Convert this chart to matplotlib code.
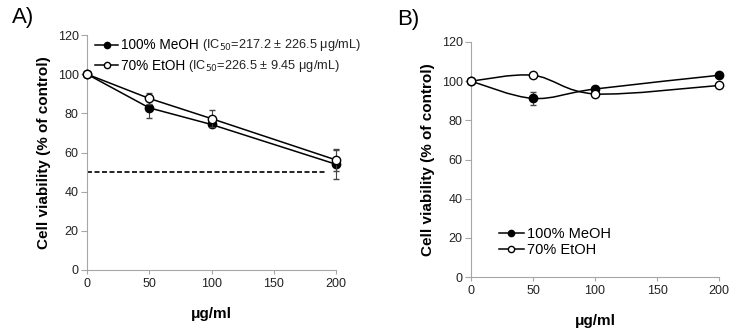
import numpy as np
import matplotlib
matplotlib.use('Agg')
import matplotlib.pyplot as plt
from matplotlib.path import Path
from matplotlib.patches import PathPatch

plt.rcParams['font.family'] = ['Liberation Sans', 'DejaVu Sans']

# data
conc = [0, 50, 100, 200]

# panel A
a_meoh = [100, 82.8, 74.3, 54.0]
a_meoh_err = [0, 5.0, 1.0, 7.5]
a_etoh = [100, 87.6, 77.3, 56.2]
a_etoh_err = [0, 3.0, 4.5, 5.5]
a_ic50 = ['(IC$_{50}$=217.2 ± 226.5 μg/mL)', '(IC$_{50}$=226.5 ± 9.45 μg/mL)']

# panel B
b_meoh = [100, 91.2, 96.0, 103.0]
b_meoh_err = [0, 3.5, 1.5, 1.0]
b_etoh = [100, 103.0, 93.5, 97.8]
b_etoh_err = [0, 1.0, 1.0, 1.0]

series_names = ['100% MeOH', '70% EtOH']
yticks = [0, 20, 40, 60, 80, 100, 120]
xticks = [0, 50, 100, 150, 200]

spine_col = '#a6a6a6'


def smooth_path(x, y):
    # Excel-like smoothed line (Catmull-Rom as cubic Bezier)
    p = np.column_stack([x, y]).astype(float)
    verts = [p[0]]
    codes = [Path.MOVETO]
    n = len(p)
    for i in range(n - 1):
        p0 = p[i - 1] if i > 0 else p[i]
        p3 = p[i + 2] if i + 2 < n else p[i + 1]
        c1 = p[i] + (p[i + 1] - p0) / 6
        c2 = p[i + 1] - (p3 - p[i]) / 6
        verts += [c1, c2, p[i + 1]]
        codes += [Path.CURVE4] * 3
    return Path(verts, codes)


def style_axes(ax):
    ax.set_xlim(0, 200)
    ax.set_ylim(0, 120)
    ax.set_xticks(xticks)
    ax.set_yticks(yticks)
    for s in ['top', 'right']:
        ax.spines[s].set_visible(False)
    for s in ['left', 'bottom']:
        ax.spines[s].set_color(spine_col)
        ax.spines[s].set_linewidth(0.8)
    ax.tick_params(axis='both', direction='out', color=spine_col, labelsize=9,
                   labelcolor='#222222', width=0.8)
    ax.tick_params(axis='y', length=4, pad=2)
    ax.tick_params(axis='x', length=3, pad=3)
    ax.set_ylabel('Cell viability (% of control)', fontsize=11, fontweight='bold', labelpad=5)
    ax.set_xlabel('μg/ml', fontsize=11, fontweight='bold', labelpad=12)


fig = plt.figure(figsize=(7.4, 3.35), dpi=100)
axA = fig.add_axes([87 / 740, 65 / 335, 249 / 740, 235 / 335])
axB = fig.add_axes([471 / 740, 58 / 335, 248 / 740, 235 / 335])

# ---- panel A
for vals, errs, fc, name, z in [(a_meoh, a_meoh_err, 'black', series_names[0], 3),
                                 (a_etoh, a_etoh_err, 'white', series_names[1], 4)]:
    axA.errorbar(conc, vals, yerr=errs, color='black', ecolor='#444444', elinewidth=0.8,
                 capsize=2, lw=1.1, marker='o', ms=6, mfc=fc, mec='black',
                 clip_on=False, zorder=z)
    axA.plot([], [], color='black', lw=1.1, marker='o', ms=4.5, mfc=fc, mec='black', label=name)
axA.plot([0, 193], [50, 50], ls=(0, (3, 1.5)), color='black', lw=1.2)
style_axes(axA)
legA = axA.legend(loc='upper left', bbox_to_anchor=(0.0, 1.02), frameon=False, fontsize=9.8,
                  handlelength=1.7, handletextpad=0.2, labelspacing=0.45,
                  borderaxespad=0.2)

# ---- panel B (smoothed lines)
for vals, errs, fc, name, z in [(b_meoh, b_meoh_err, 'black', series_names[0], 3),
                                 (b_etoh, b_etoh_err, 'white', series_names[1], 4)]:
    axB.add_patch(PathPatch(smooth_path(conc, vals), fc='none', ec='black', lw=1.1, zorder=2))
    axB.errorbar(conc, vals, yerr=errs, fmt='none', ecolor='#444444', elinewidth=0.8,
                 capsize=2, zorder=2)
    axB.plot(conc, vals, ls='none', marker='o', ms=6, mfc=fc, mec='black', clip_on=False, zorder=z)
    axB.plot([], [], color='black', lw=1.1, marker='o', ms=4.5, mfc=fc, mec='black', label=name)
style_axes(axB)
axB.legend(loc='lower left', bbox_to_anchor=(0.06, 0.03), frameon=False, fontsize=10.5,
           handlelength=1.7, handletextpad=0.2, labelspacing=0.1)

# IC50 text after legend labels in panel A
fig.canvas.draw()
renderer = fig.canvas.get_renderer()
inv = fig.transFigure.inverted()
for t, extra in zip(legA.get_texts(), a_ic50):
    bb = t.get_window_extent(renderer)
    x0, y0 = inv.transform((bb.x1 + 3, (bb.y0 + bb.y1) / 2))
    fig.text(x0, y0, extra, fontsize=9.2, va='center', ha='left', color='#222222')

fig.text(12 / 740, 1 - 18 / 335, 'A)', fontsize=16, va='center', ha='left')
fig.text(397 / 740, 1 - 19 / 335, 'B)', fontsize=16, va='center', ha='left')

fig.savefig('out.png', dpi=100)
